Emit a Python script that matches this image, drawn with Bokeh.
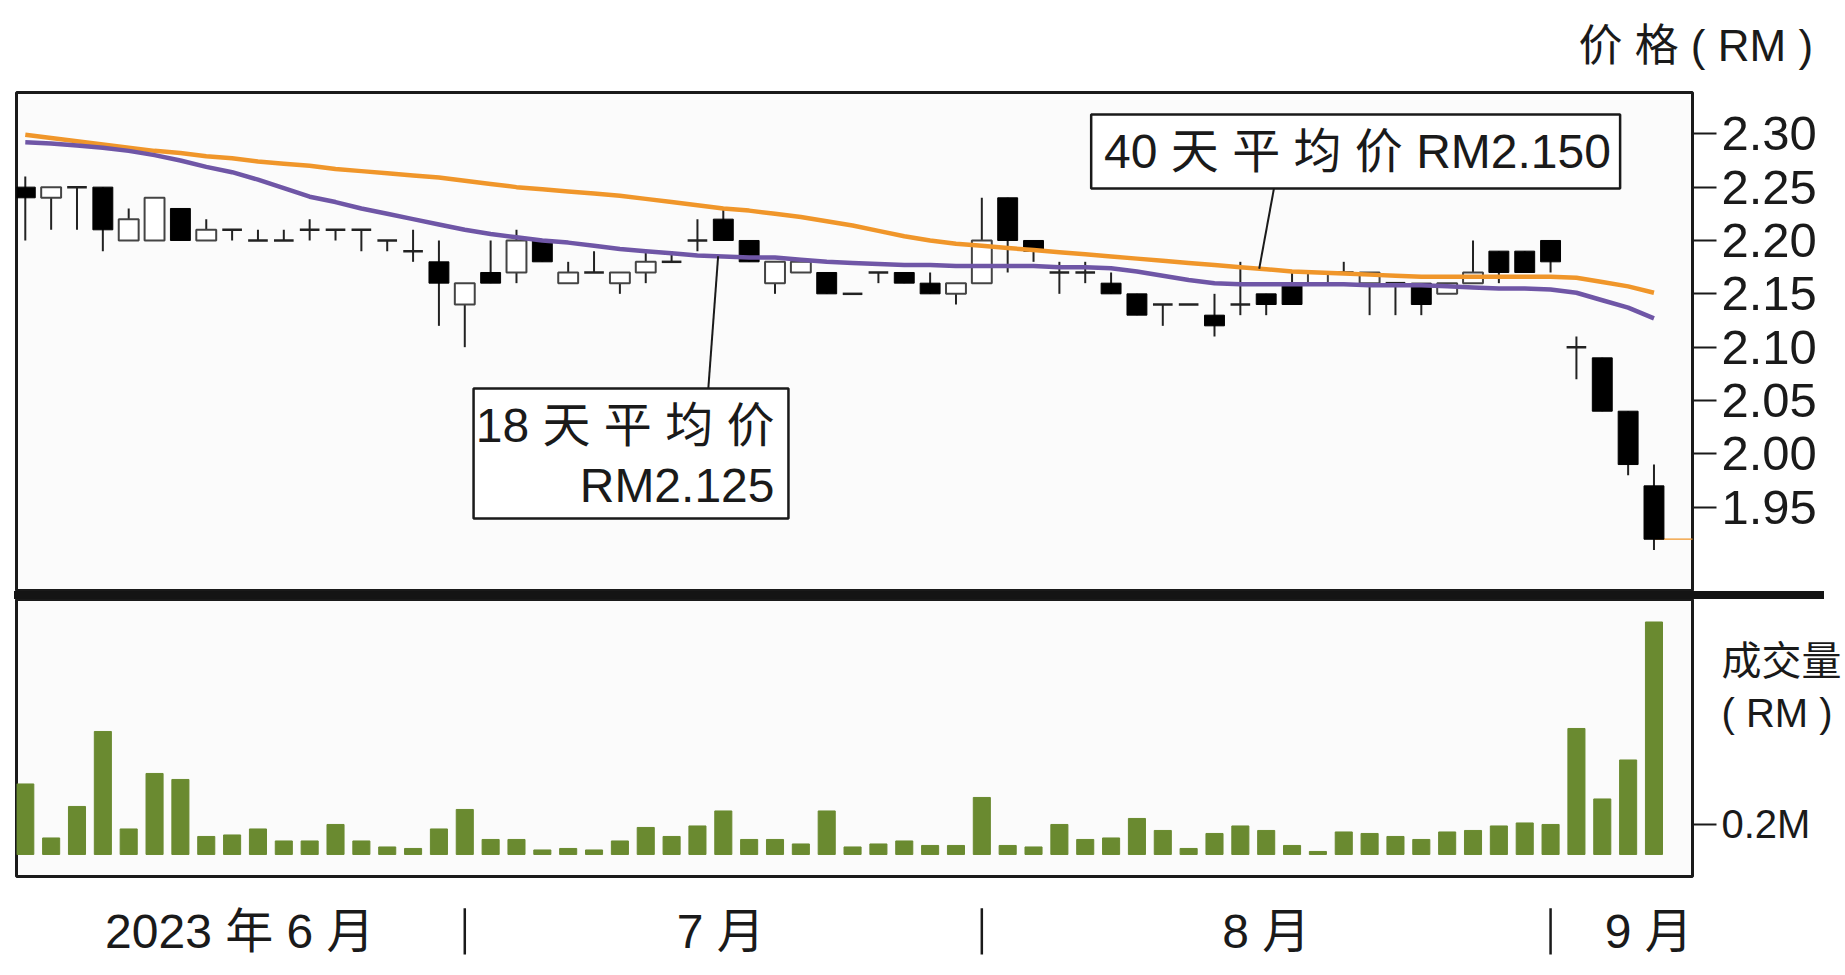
import numpy as np
from bokeh.plotting import figure
from bokeh.layouts import column, row
from bokeh.models import FixedTicker, Range1d, Spacer, Div
from bokeh.core.properties import value
from bokeh.embed import file_html
from bokeh.resources import INLINE

# daily candles, June - early September 2023 (RM)
opens = [2.25, 2.24, 2.25, 2.25, 2.20, 2.20, 2.23, 2.20, 2.21, 2.20,
         2.20, 2.21, 2.21, 2.21, 2.20, 2.19, 2.18, 2.14, 2.17, 2.17,
         2.20, 2.16, 2.17, 2.16, 2.17, 2.18, 2.20, 2.22, 2.20, 2.16,
         2.17, 2.17, 2.15, 2.17, 2.17, 2.16, 2.15, 2.16, 2.24, 2.20,
         2.17, 2.17, 2.16, 2.15, 2.14, 2.14, 2.13, 2.14, 2.15, 2.16,
         2.16, 2.17, 2.16, 2.16, 2.16, 2.15, 2.16, 2.19, 2.19, 2.20,
         2.10, 2.09, 2.04, 1.97]
highs = [2.26, 2.25, 2.25, 2.25, 2.23, 2.24, 2.23, 2.22, 2.21, 2.21,
         2.21, 2.22, 2.21, 2.21, 2.20, 2.21, 2.20, 2.16, 2.20, 2.21,
         2.20, 2.18, 2.19, 2.17, 2.19, 2.19, 2.22, 2.23, 2.20, 2.18,
         2.18, 2.17, 2.15, 2.17, 2.17, 2.17, 2.16, 2.24, 2.24, 2.20,
         2.18, 2.18, 2.17, 2.15, 2.14, 2.14, 2.15, 2.18, 2.15, 2.17,
         2.17, 2.18, 2.17, 2.16, 2.16, 2.16, 2.20, 2.19, 2.19, 2.20,
         2.11, 2.09, 2.04, 1.99]
lows = [2.20, 2.21, 2.21, 2.19, 2.20, 2.20, 2.20, 2.20, 2.20, 2.20,
        2.20, 2.20, 2.20, 2.19, 2.19, 2.18, 2.12, 2.10, 2.16, 2.16,
        2.18, 2.16, 2.17, 2.15, 2.16, 2.18, 2.19, 2.20, 2.18, 2.15,
        2.17, 2.15, 2.15, 2.16, 2.16, 2.15, 2.14, 2.16, 2.17, 2.18,
        2.15, 2.16, 2.15, 2.13, 2.12, 2.14, 2.11, 2.13, 2.13, 2.14,
        2.16, 2.17, 2.13, 2.13, 2.13, 2.15, 2.16, 2.16, 2.17, 2.17,
        2.07, 2.04, 1.98, 1.91]
closes = [2.24, 2.25, 2.25, 2.21, 2.22, 2.24, 2.20, 2.21, 2.21, 2.20,
          2.20, 2.21, 2.21, 2.21, 2.20, 2.19, 2.16, 2.16, 2.16, 2.20,
          2.18, 2.17, 2.17, 2.17, 2.18, 2.18, 2.20, 2.20, 2.18, 2.18,
          2.18, 2.15, 2.15, 2.17, 2.16, 2.15, 2.16, 2.20, 2.20, 2.19,
          2.17, 2.17, 2.15, 2.13, 2.14, 2.14, 2.12, 2.14, 2.14, 2.14,
          2.17, 2.17, 2.17, 2.16, 2.14, 2.16, 2.17, 2.17, 2.17, 2.18,
          2.10, 2.04, 1.99, 1.92]

# traded value, RM million
volume = [0.47, 0.11, 0.32, 0.82, 0.17, 0.54, 0.50, 0.12, 0.13, 0.17,
          0.09, 0.09, 0.20, 0.09, 0.05, 0.04, 0.17, 0.30, 0.10, 0.10,
          0.03, 0.04, 0.03, 0.09, 0.18, 0.12, 0.19, 0.29, 0.10, 0.10,
          0.07, 0.29, 0.05, 0.07, 0.09, 0.06, 0.06, 0.38, 0.06, 0.05,
          0.20, 0.10, 0.11, 0.24, 0.16, 0.04, 0.14, 0.19, 0.16, 0.06,
          0.02, 0.15, 0.14, 0.12, 0.10, 0.15, 0.16, 0.19, 0.21, 0.20,
          0.84, 0.37, 0.63, 1.55]

# moving averages
ma18 = [2.292, 2.291, 2.289, 2.287, 2.284, 2.280, 2.275, 2.269, 2.264, 2.257,
        2.249, 2.241, 2.236, 2.230, 2.225, 2.220, 2.215, 2.210, 2.206, 2.203,
        2.200, 2.198, 2.195, 2.192, 2.190, 2.188, 2.186, 2.185, 2.184, 2.184,
        2.182, 2.180, 2.179, 2.178, 2.177, 2.177, 2.176, 2.176, 2.176, 2.176,
        2.175, 2.175, 2.174, 2.171, 2.167, 2.163, 2.160, 2.159, 2.159, 2.159,
        2.159, 2.159, 2.158, 2.158, 2.158, 2.157, 2.156, 2.155, 2.155, 2.154,
        2.151, 2.144, 2.137, 2.127]
ma40 = [2.299, 2.296, 2.293, 2.290, 2.287, 2.284, 2.282, 2.279, 2.277, 2.274,
        2.272, 2.270, 2.267, 2.265, 2.263, 2.261, 2.259, 2.256, 2.253, 2.250,
        2.248, 2.246, 2.244, 2.242, 2.239, 2.236, 2.233, 2.230, 2.228, 2.225,
        2.222, 2.218, 2.214, 2.209, 2.204, 2.200, 2.197, 2.195, 2.193, 2.191,
        2.189, 2.187, 2.185, 2.183, 2.181, 2.179, 2.177, 2.175, 2.173, 2.171,
        2.170, 2.169, 2.168, 2.167, 2.166, 2.166, 2.166, 2.166, 2.166, 2.166,
        2.165, 2.161, 2.157, 2.151]

price_ticks = [1.95, 2.00, 2.05, 2.10, 2.15, 2.20, 2.25, 2.30]
price_tick_labels = ["1.95", "2.00", "2.05", "2.10", "2.15", "2.20", "2.25", "2.30"]
vol_ticks = [0.2]
vol_tick_labels = ["0.2M"]
month_labels = ["2023 年 6 月", "7 月", "8 月", "9 月"]
month_label_pos = [9.3, 27.9, 49.0, 63.8]
month_ends = [18, 38, 60]   # last trading day of Jun / Jul / Aug

MIX = "Liberation Sans, Noto Sans CJK SC"
INK = "#1a1a1a"
ORANGE = "#f0962a"
PURPLE = "#6f56a6"
GREEN = "#6a8a30"

idx = np.arange(1, len(closes) + 1)
o, h, l, c = (np.array(a) for a in (opens, highs, lows, closes))
up = c > o
down = c < o
flat = c == o

x_range = Range1d(0.66, 65.49)
W = 1845
LEFT = 16
RIGHT = W - 1692


def style_axis(ax, size):
    ax.major_tick_in = 0
    ax.major_tick_out = 24
    ax.major_tick_line_width = 2
    ax.major_tick_line_color = INK
    ax.minor_tick_line_color = None
    ax.axis_line_color = None
    ax.major_label_standoff = 5
    ax.major_label_text_font = MIX
    ax.major_label_text_font_size = size
    ax.major_label_text_color = INK


# ---- price panel
p = figure(width=W, height=591, x_range=x_range, y_range=Range1d(1.871, 2.3387),
           output_backend="svg", toolbar_location=None,
           x_axis_location=None, y_axis_location="right",
           min_border_left=LEFT, min_border_right=RIGHT, min_border_top=92, min_border_bottom=0,
           background_fill_color="#fbfbfb", border_fill_color="white",
           outline_line_color=INK, outline_line_width=3)
p.grid.visible = False
pax = p.yaxis[0]
pax.ticker = FixedTicker(ticks=price_ticks)
pax.major_label_overrides = dict(zip(price_ticks, price_tick_labels))
style_axis(pax, "49px")

p.title.text = "价  格  ( RM )"
p.title.align = "right"
p.title.vertical_align = "top"
p.title.offset = -145
p.title.standoff = 41
p.title.text_font = MIX
p.title.text_font_size = "44px"
p.title.text_font_style = "normal"
p.title.text_color = INK

p.ray(x=[idx[-1]], y=[closes[-1]], length=0, angle=0, color=ORANGE, line_width=1.2)
p.segment(idx, h, idx, l, color="#222222", line_width=2)
p.vbar(x=idx[down], bottom=c[down], top=o[down], width=0.77,
       fill_color="black", line_color="black", line_width=1)
p.vbar(x=idx[up], bottom=o[up], top=c[up], width=0.77,
       fill_color="white", line_color="#444444", line_width=2)
p.segment(idx[flat] - 0.38, o[flat], idx[flat] + 0.38, o[flat], color="#222222", line_width=2.5)

p.line(idx, ma40, color=ORANGE, line_width=4.5)
p.line(idx, ma18, color=PURPLE, line_width=4.5)

# call-outs for the two averages
a40 = 48.73
p.segment([49.3], [2.2487], [a40], [np.interp(a40, idx, ma40)], color=INK, line_width=2)
p.quad(left=[42.23], right=[62.69], top=[2.318], bottom=[2.2487],
       fill_color="white", line_color=INK, line_width=2.5)
p.text(x=[42.73], y=[2.2834], text=["40 天 平 均 价 RM2.150"], text_baseline="middle",
       text_font=value(MIX), text_font_size="48px", text_color=INK)

a18 = 27.8
p.segment([27.42], [2.0612], [a18], [np.interp(a18, idx, ma18)], color=INK, line_width=2)
p.quad(left=[18.34], right=[30.52], top=[2.0612], bottom=[1.9394],
       fill_color="white", line_color=INK, line_width=2.5)
p.text(x=[29.98, 29.98], y=[2.0265, 1.9703], text=["18 天 平 均 价", "RM2.125"],
       text_align="right", text_baseline="middle",
       text_font=value(MIX), text_font_size="48px", text_color=INK)

# ---- thick divider between the panels
bar = Div(text="", width=1810, height=8, margin=0, styles={"background-color": "#141414"})
divider = row(Spacer(width=14, height=8, margin=0), bar, spacing=0, margin=0)

# ---- volume panel (unit caption sits on the axis, tick mark only at 0.2M)
pv = figure(width=W, height=280, x_range=x_range, y_range=Range1d(-0.147, 1.70),
            output_backend="svg", toolbar_location=None,
            x_axis_location=None, y_axis_location="right",
            min_border_left=LEFT, min_border_right=RIGHT, min_border_top=0, min_border_bottom=3,
            background_fill_color="#fbfbfb", border_fill_color="white",
            outline_line_color=INK, outline_line_width=3)
pv.grid.visible = False
vax = pv.yaxis[0]
caption_pos = [0.94, 1.287]
caption_text = ["( RM )", "成交量"]
vax.ticker = FixedTicker(ticks=vol_ticks + caption_pos, minor_ticks=vol_ticks)
vax.major_label_overrides = dict(zip(vol_ticks + caption_pos, vol_tick_labels + caption_text))
style_axis(vax, "40px")
vax.major_tick_line_color = None
vax.minor_tick_line_color = INK
vax.minor_tick_line_width = 2
vax.minor_tick_in = 0
vax.minor_tick_out = 24
pv.vbar(x=idx, top=volume, bottom=0, width=0.66, color=GREEN)

# ---- month strip
pm = figure(width=W, height=96, x_range=x_range, y_range=Range1d(0, 1),
            output_backend="svg", toolbar_location=None,
            x_axis_location=None, y_axis_location=None,
            min_border_left=LEFT, min_border_right=RIGHT, min_border_top=0, min_border_bottom=0,
            background_fill_color="white", border_fill_color="white",
            outline_line_color=None)
pm.grid.visible = False
pm.text(x=month_label_pos, y=[0.46] * len(month_labels), text=month_labels,
        text_align="center", text_baseline="middle",
        text_font=value(MIX), text_font_size="48px", text_color=INK)
pm.segment(x0=month_ends, y0=[0.22] * len(month_ends), x1=month_ends, y1=[0.70] * len(month_ends),
           color=INK, line_width=2.5)

layout = column(p, divider, pv, pm, spacing=0)
open("out.html", "w").write(file_html(layout, INLINE))
